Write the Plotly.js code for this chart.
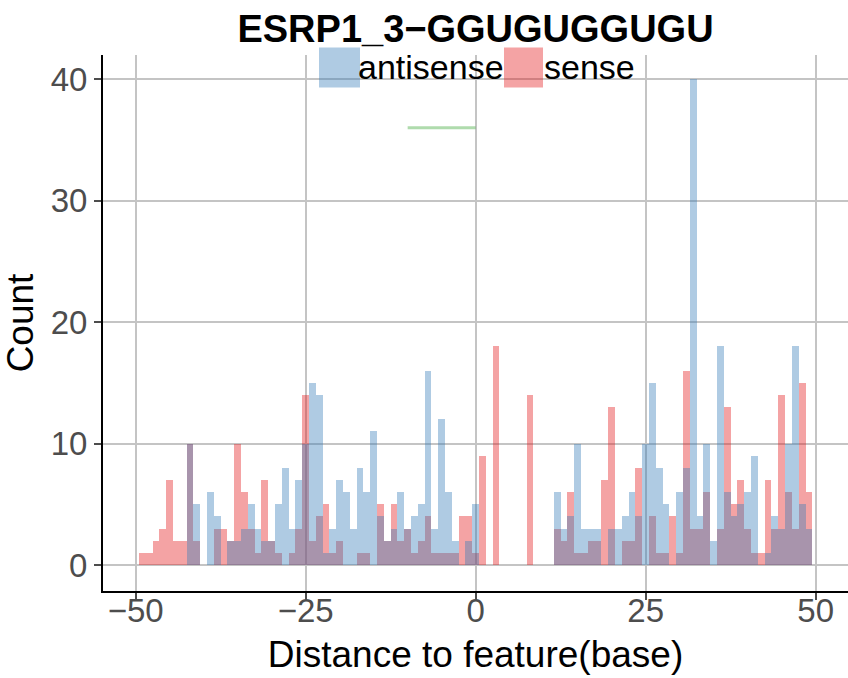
<!DOCTYPE html>
<html>
<head>
<meta charset="utf-8">
<script src="https://cdn.plot.ly/plotly-3.0.1.min.js"></script>
<style>
  html, body { margin: 0; padding: 0; background: #ffffff; }
  #chart { width: 848px; height: 678px; }
</style>
</head>
<body>
<div id="chart"></div>
<script>
// Bin centres (distance to feature, in bases)
var distance = [
  -49,-48,-47,-46,-45,-44,-43,-42,-41,-40,
  -39,-38,-37,-36,-35,-34,-33,-32,-31,-30,
  -29,-28,-27,-26,-25,-24,-23,-22,-21,-20,
  -19,-18,-17,-16,-15,-14,-13,-12,-11,-10,
  -9,-8,-7,-6,-5,-4,-3,-2,-1,0,
  1,2,3,4,5,6,7,8,9,10,
  11,12,13,14,15,16,17,18,19,20,
  21,22,23,24,25,26,27,28,29,30,
  31,32,33,34,35,36,37,38,39,40,
  41,42,43,44,45,46,47,48,49
];

// Counts per bin
var senseCounts = [
  1,1,2,3,7,2,2,10,2,0,
  0,3,3,2,10,6,3,1,7,2,
  1,0,1,3,14,2,4,5,1,2,
  0,0,1,1,0,5,2,5,2,3,
  1,2,4,1,1,1,1,4,4,1,
  9,0,18,0,0,0,0,14,0,0,
  0,3,2,6,1,1,2,2,7,13,
  0,2,2,8,0,4,1,1,4,1,
  16,3,3,6,0,3,13,5,7,3,
  1,1,7,3,14,6,3,15,6
];

var antisenseCounts = [
  0,0,0,0,0,0,0,10,5,0,
  6,4,0,2,2,3,5,3,2,2,
  5,8,3,7,10,15,14,1,3,7,
  6,3,8,6,11,4,2,3,6,3,
  4,5,16,3,12,6,2,0,2,5,
  0,0,0,0,0,0,0,0,0,0,
  0,6,3,4,10,3,3,3,0,3,
  3,4,6,4,10,15,8,5,0,6,
  8,40,4,10,2,18,6,4,5,6,
  9,0,1,4,3,10,18,5,3
];

// Motif segment
var motifX = [-10, 0];
var motifY = [36, 36];

var seriesNames = ['antisense', 'sense'];
var xTicks = [-50, -25, 0, 25, 50];
var yTicks = [0, 10, 20, 30, 40];

var chartTitle = 'ESRP1_3\u2212GGUGUGGUGU';
var xTitle = 'Distance to feature(base)';
var yTitle = 'Count';

var RED = 'rgba(228,26,28,0.4)';
var BLUE = 'rgba(55,126,184,0.4)';
var GREEN = 'rgba(77,175,74,0.45)';
var FONT = 'Liberation Sans, Arial, sans-serif';

var traces = [
  {
    type: 'bar', x: distance, y: senseCounts, width: 1,
    name: seriesNames[1], marker: {color: RED, line: {width: 0}},
    showlegend: false, hoverinfo: 'x+y'
  },
  {
    type: 'bar', x: distance, y: antisenseCounts, width: 1,
    name: seriesNames[0], marker: {color: BLUE, line: {width: 0}},
    showlegend: false, hoverinfo: 'x+y'
  },
  {
    type: 'scatter', mode: 'lines', x: motifX, y: motifY,
    line: {color: GREEN, width: 3}, showlegend: false, hoverinfo: 'skip'
  }
];

// plot area in pixels: x 103..848, y 55..591
var L = 103, R = 848, T = 55, B = 591;
function px(xp) { return (xp - L) / (R - L); }
function py(yp) { return (B - yp) / (B - T); }

var layout = {
  width: 848, height: 678,
  margin: {l: L, r: 848 - R, t: T, b: 678 - B, pad: 0},
  paper_bgcolor: '#ffffff', plot_bgcolor: '#ffffff',
  barmode: 'overlay', bargap: 0,
  font: {family: FONT, color: '#000000'},
  title: {
    text: '<b>' + chartTitle + '</b>',
    font: {family: FONT, size: 38, color: '#000000'},
    xref: 'paper', x: 0.5, xanchor: 'center',
    yref: 'container', y: 1 - 29 / 678, yanchor: 'middle'
  },
  xaxis: {
    range: [-54.8, 54.75],
    tickmode: 'array', tickvals: xTicks, ticktext: xTicks.map(function (v) { return v < 0 ? '\u2212' + Math.abs(v) : String(v); }),
    showgrid: true, gridcolor: '#c4c4c4', gridwidth: 2,
    zeroline: false,
    showline: true, linecolor: '#000000', linewidth: 2,
    ticks: 'outside', ticklen: 7, tickwidth: 2, tickcolor: '#4d4d4d',
    ticklabelstandoff: -18,
    tickfont: {family: FONT, size: 33, color: '#4d4d4d'},
    title: {text: xTitle, font: {family: FONT, size: 37, color: '#000000'}, standoff: 14},
    fixedrange: true
  },
  yaxis: {
    range: [-2.14, 41.98],
    tickmode: 'array', tickvals: yTicks, ticktext: yTicks.map(String),
    showgrid: true, gridcolor: '#c4c4c4', gridwidth: 2,
    zeroline: false,
    showline: true, linecolor: '#000000', linewidth: 2,
    ticks: 'outside', ticklen: 7, tickwidth: 2, tickcolor: '#4d4d4d',
    tickfont: {family: FONT, size: 33, color: '#4d4d4d'},
    title: {text: yTitle, font: {family: FONT, size: 37, color: '#000000'}, standoff: 6},
    fixedrange: true
  },
  shapes: [
    {type: 'rect', xref: 'paper', yref: 'paper', x0: px(319), x1: px(360), y0: py(87.5), y1: py(47.5),
     fillcolor: BLUE, line: {width: 0}, layer: 'above'},
    {type: 'rect', xref: 'paper', yref: 'paper', x0: px(504), x1: px(543), y0: py(87.5), y1: py(47.5),
     fillcolor: RED, line: {width: 0}, layer: 'above'}
  ],
  annotations: [
    {xref: 'paper', yref: 'paper', x: px(356), y: py(67), xanchor: 'left', yanchor: 'middle',
     text: seriesNames[0], showarrow: false, font: {family: FONT, size: 34, color: '#000000'}},
    {xref: 'paper', yref: 'paper', x: px(542), y: py(67), xanchor: 'left', yanchor: 'middle',
     text: seriesNames[1], showarrow: false, font: {family: FONT, size: 34, color: '#000000'}}
  ]
};

Plotly.newPlot('chart', traces, layout, {displayModeBar: false, staticPlot: true});
</script>
</body>
</html>
